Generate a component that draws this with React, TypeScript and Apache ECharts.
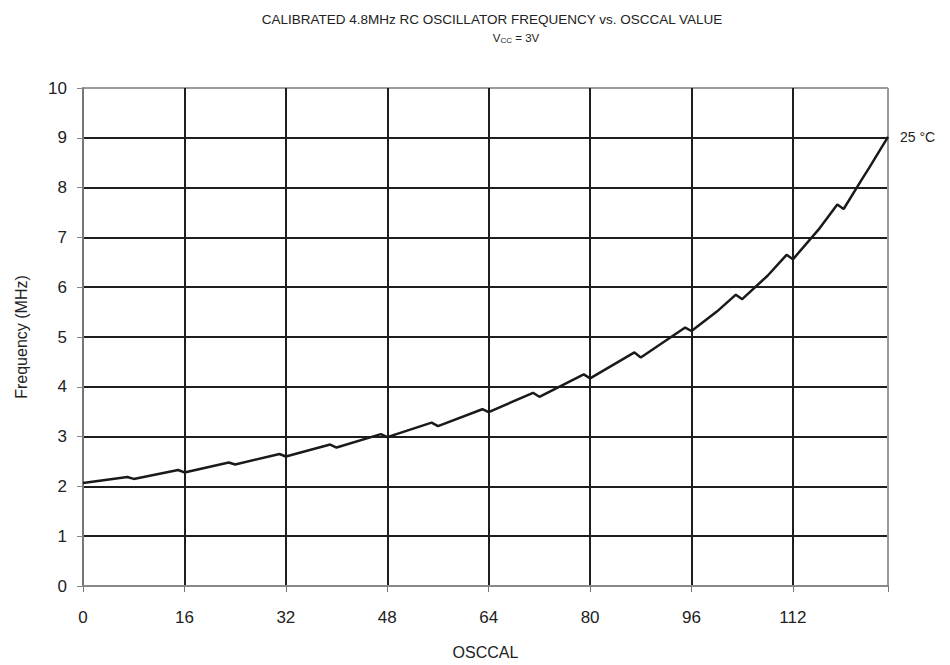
import React, { useEffect, useRef } from "react";
import * as echarts from "echarts";

const titleText = "CALIBRATED 4.8MHz RC OSCILLATOR FREQUENCY vs. OSCCAL VALUE";
const seriesName = "25 °C";
const osccal = [0, 7, 8, 15, 16, 23, 24, 31, 32, 39, 40, 47, 48, 55, 56, 63, 64, 71, 72, 79, 80, 87, 88, 95, 96, 100, 103, 104, 108, 111, 112, 116, 119, 120, 123, 124, 127];
const freq = [2.07, 2.19, 2.15, 2.33, 2.28, 2.48, 2.44, 2.65, 2.6, 2.84, 2.78, 3.05, 2.99, 3.28, 3.21, 3.55, 3.49, 3.88, 3.8, 4.25, 4.17, 4.69, 4.59, 5.19, 5.12, 5.51, 5.85, 5.76, 6.23, 6.65, 6.56, 7.15, 7.66, 7.57, 8.19, 8.39, 9.02];

export default function App() {
  const ref = useRef<HTMLDivElement>(null);
  useEffect(() => {
    if (!ref.current) return;
    const chart = echarts.init(ref.current, undefined, { renderer: "svg" });
    const font = "'Liberation Sans', Arial, sans-serif";
    const gray = "#9a9a9a";
    const black = "#1e1e1e";
    chart.setOption({
      animation: false,
      backgroundColor: "#fff",
      textStyle: { fontFamily: font },
      title: [
        {
          text: titleText,
          left: 487,
          top: 7,
          textAlign: "center",
          textStyle: { fontSize: 13.5, fontWeight: "normal", color: "#222", fontFamily: font },
        },
        {
          text: "{a|V}{b|CC}{a| = 3V}",
          left: 511,
          top: 26,
          textAlign: "center",
          textStyle: {
            fontFamily: font,
            fontWeight: "normal",
            rich: {
              a: { fontSize: 11.5, color: "#222", fontFamily: font, fontWeight: "normal" },
              b: { fontSize: 8, color: "#222", fontFamily: font, fontWeight: "normal", padding: [5, 0, 0, 0] },
            },
          },
        },
      ],
      grid: { left: 83, right: 62, top: 88, bottom: 79, containLabel: false },
      xAxis: {
        type: "value",
        min: 0,
        max: 127,
        interval: 16,
        name: "OSCCAL",
        nameLocation: "middle",
        nameGap: 58,
        nameTextStyle: { fontSize: 16, color: "#222", fontFamily: font },
        axisLine: { show: true, lineStyle: { color: "#888", width: 2 } },
        axisTick: { show: true, inside: false, length: 6, lineStyle: { color: "#777", width: 1 } },
        axisLabel: {
          fontSize: 17,
          color: "#222",
          margin: 23,
          fontFamily: font,
          formatter: (v: number) => (v === 127 ? "" : String(v)),
        },
        splitLine: {
          show: true,
          lineStyle: { color: [gray, black, black, black, black, black, black, black, gray], width: 2 },
        },
      },
      yAxis: {
        type: "value",
        min: 0,
        max: 10,
        interval: 1,
        name: "Frequency (MHz)",
        nameLocation: "middle",
        nameGap: 54,
        nameTextStyle: { fontSize: 16, color: "#222", fontFamily: font },
        axisLine: { show: true, lineStyle: { color: "#777", width: 2 } },
        axisTick: { show: true, inside: false, length: 6, lineStyle: { color: "#888", width: 1 } },
        axisLabel: { fontSize: 17, color: "#222", margin: 16, fontFamily: font },
        splitLine: {
          show: true,
          lineStyle: { color: [gray, black, black, black, black, black, black, black, black, black, gray], width: 2 },
        },
      },
      series: [
        {
          type: "line",
          name: seriesName,
          data: osccal.map((x, i) => [x, freq[i]]),
          showSymbol: false,
          symbol: "none",
          lineStyle: { color: "#1a1a1a", width: 2.5 },
          z: 5,
          endLabel: {
            show: true,
            formatter: seriesName,
            fontSize: 14,
            color: "#222",
            fontFamily: font,
            distance: 12,
          },
        },
      ],
    });
    return () => chart.dispose();
  }, []);
  return <div ref={ref} style={{ width: 950, height: 665, position: "absolute", left: 0, top: 0 }} />;
}
